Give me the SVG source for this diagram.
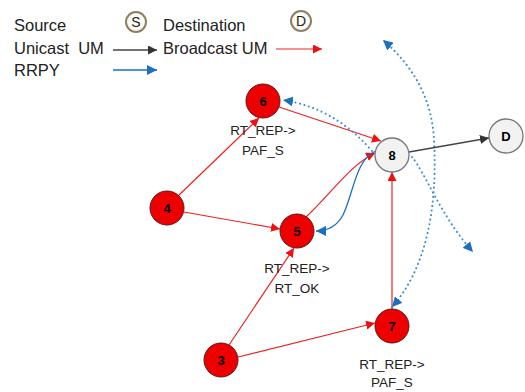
<svg xmlns="http://www.w3.org/2000/svg" width="525" height="392" viewBox="0 0 525 392">
<style>
text{font-family:"Liberation Sans",Arial,sans-serif;fill:#222}
.leg{font-size:16.5px;white-space:pre}
.lbl{font-size:13.5px;text-anchor:middle}
.num{font-size:13px;font-weight:bold;text-anchor:middle;fill:#000}
.red{fill:#ee0000;stroke:#5a1a1a;stroke-width:1}
.gray{fill:#f2f2f2;stroke:#777;stroke-width:1.3}
.lc{fill:#fdfcf8;stroke:#8c8060;stroke-width:2}
.er{stroke:#f02020;stroke-width:1.2;fill:none}
.eb{stroke:#1a70c0;stroke-width:1.3;fill:none}
.ed{stroke:#3a8ad0;stroke-width:2;fill:none;stroke-dasharray:0.1 4.5;stroke-linecap:round}
.ek{stroke:#444;stroke-width:1.3;fill:none}
</style>
<defs>
<marker id="ar" viewBox="0 0 10 10" refX="10" refY="5" markerWidth="9" markerHeight="9" markerUnits="userSpaceOnUse" orient="auto"><path d="M0,0L10,5L0,10z" fill="#f01010"/></marker>
<marker id="ab" viewBox="0 0 10 10" refX="10" refY="5" markerWidth="10" markerHeight="10" markerUnits="userSpaceOnUse" orient="auto"><path d="M0,0L10,5L0,10z" fill="#1a6fc0"/></marker>
<marker id="ak" viewBox="0 0 10 10" refX="10" refY="5" markerWidth="9" markerHeight="9" markerUnits="userSpaceOnUse" orient="auto"><path d="M0,0L10,5L0,10z" fill="#333"/></marker>
<marker id="abs" viewBox="0 0 10 10" refX="10" refY="5" markerWidth="10" markerHeight="10" markerUnits="userSpaceOnUse" orient="auto-start-reverse"><path d="M0,0L10,5L0,10z" fill="#1a6fc0"/></marker>
</defs>
<g id="legend">
<text class="leg" x="14" y="31">Source</text>
<circle class="lc" cx="136" cy="22" r="10"/>
<text x="136" y="27" style="font-size:14px;text-anchor:middle">S</text>
<text class="leg" x="163" y="31">Destination</text>
<circle class="lc" cx="301" cy="21" r="10"/>
<text x="301" y="26" style="font-size:14px;text-anchor:middle">D</text>
<text class="leg" x="14" y="54" xml:space="preserve">Unicast  UM</text>
<line class="ek" x1="113" y1="50" x2="157" y2="50" marker-end="url(#ak)"/>
<text class="leg" x="163" y="54">Broadcast UM</text>
<line class="er" x1="276" y1="49" x2="322" y2="49" stroke-width="1.6" marker-end="url(#ar)"/>
<text class="leg" x="14" y="76">RRPY</text>
<line class="eb" x1="113" y1="70" x2="157" y2="70" stroke-width="1.6" marker-end="url(#ab)"/>
</g>
<g id="connectors">
<line class="er" x1="178" y1="196" x2="259" y2="118" marker-end="url(#ar)"/>
<line class="er" x1="184" y1="212" x2="280" y2="229" marker-end="url(#ar)"/>
<line class="er" x1="229" y1="345" x2="294" y2="248" marker-end="url(#ar)"/>
<line class="er" x1="238" y1="357" x2="375" y2="323" marker-end="url(#ar)"/>
<line class="er" x1="279" y1="107" x2="381" y2="141" marker-end="url(#ar)"/>
<path class="er" d="M306,217 C330,195 350,165 375,153" marker-end="url(#ar)"/>
<line class="er" x1="392" y1="309" x2="392" y2="172" marker-end="url(#ar)"/>
<path class="eb" d="M376,151 C356,158 353,195 343,215 C336,228 326,231 316,231" marker-end="url(#ab)"/>
<path class="ed" d="M372,151 Q335,108 283,100" marker-end="url(#ab)"/>
<path class="ed" d="M392,307 C425,270 438,210 434,140 C432,100 415,68 383,40" marker-start="url(#abs)" marker-end="url(#abs)"/>
<path class="ed" d="M412,157 C425,172 440,215 473,252" marker-end="url(#ab)"/>
<line class="ek" x1="409" y1="152" x2="489" y2="138" marker-end="url(#ak)"/>
</g>
<g id="n6"><circle class="red" cx="263" cy="101" r="17"/><text class="num" x="263" y="106">6</text></g>
<g id="n4"><circle class="red" cx="167" cy="208" r="17"/><text class="num" x="167" y="213">4</text></g>
<g id="n5"><circle class="red" cx="297" cy="231" r="17"/><text class="num" x="297" y="236">5</text></g>
<g id="n7"><circle class="red" cx="392" cy="326" r="17"/><text class="num" x="392" y="331">7</text></g>
<g id="n3"><circle class="red" cx="221" cy="360" r="17"/><text class="num" x="221" y="365">3</text></g>
<g id="n8"><circle class="gray" cx="392" cy="155" r="17"/><text class="num" x="392" y="160">8</text></g>
<g id="nD"><circle class="gray" cx="506" cy="136" r="17"/><text class="num" x="506" y="141">D</text></g>
<g id="labels">
<text class="lbl" x="263" y="135">RT_REP-&gt;</text>
<text class="lbl" x="263" y="155">PAF_S</text>
<text class="lbl" x="297" y="273">RT_REP-&gt;</text>
<text class="lbl" x="297" y="293">RT_OK</text>
<text class="lbl" x="392" y="369">RT_REP-&gt;</text>
<text class="lbl" x="392" y="387">PAF_S</text>
</g>
</svg>
